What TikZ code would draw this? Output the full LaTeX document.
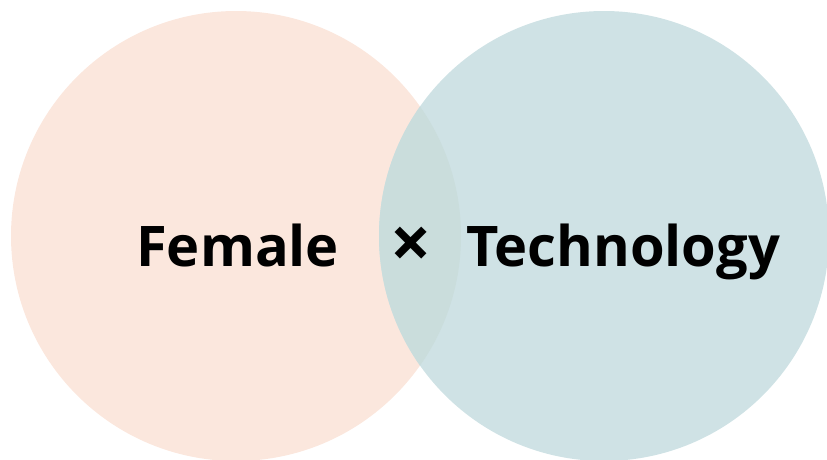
\documentclass[tikz,border=0pt]{standalone}
\usepackage{fontspec}
\setmainfont{Open Sans}
\definecolor{peach}{HTML}{FBE7DD}
\definecolor{teal}{HTML}{CFE2E5}
\definecolor{overlap}{HTML}{CADDDC}
\begin{document}
\begin{tikzpicture}[x=1pt,y=-1pt,
  lbl/.style={font=\fontsize{56}{60}\selectfont\bfseries, inner sep=0pt, anchor=base west}]
\useasboundingbox (0,0) rectangle (827,459);
\fill[peach] (236,236) circle[radius=225];
\fill[teal] (604,236) circle[radius=225];
\begin{scope}
  \clip (236,236) circle[radius=225];
  \fill[overlap] (604,236) circle[radius=225];
\end{scope}
\node[lbl] (female) at (136,266) {Female};
\node[font=\fontsize{72}{76}\selectfont\bfseries, inner sep=0pt, anchor=center] (times) at (411,248) {×};
\node[lbl] (tech) at (466,266) {Technology};
\end{tikzpicture}
\end{document}
